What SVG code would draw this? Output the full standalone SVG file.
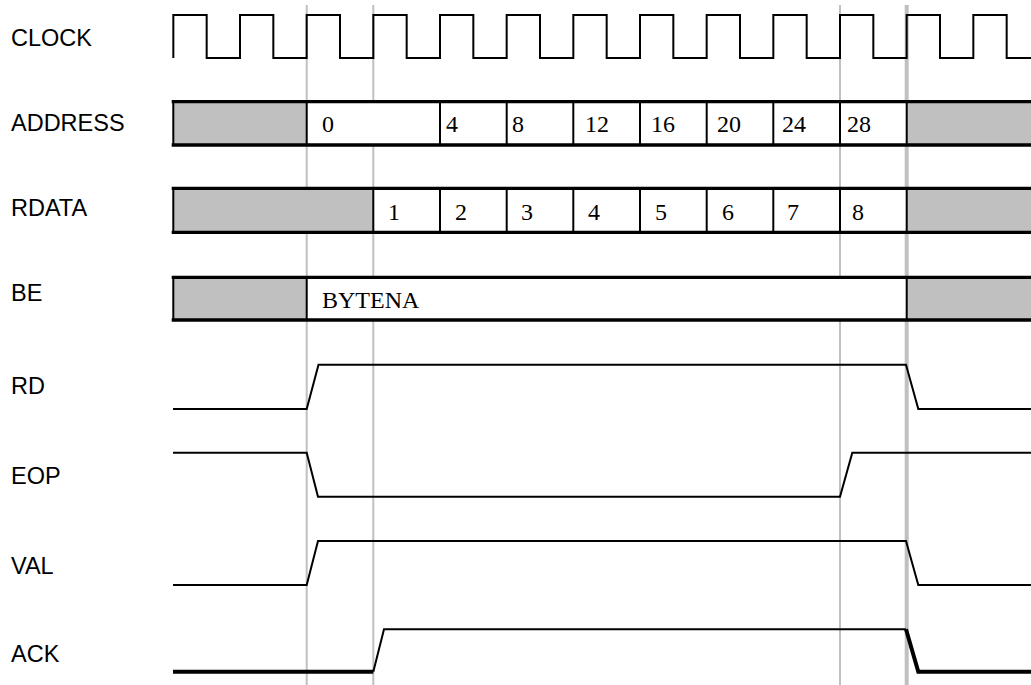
<svg xmlns="http://www.w3.org/2000/svg" width="1031" height="685" viewBox="0 0 1031 685">
<style>
.lbl{font-family:"Liberation Sans",Arial,sans-serif;font-size:23.5px;fill:#000}
.val{font-family:"Liberation Serif","Times New Roman",serif;font-size:24px;fill:#000}
.grid{stroke:#c0c0c0;stroke-width:2;fill:none}
.sig{stroke:#000;stroke-width:2;fill:none;stroke-linejoin:miter}
.thick{stroke:#000;stroke-width:4;fill:none}
.edge{stroke:#000;stroke-width:3.3;fill:none}
.div{stroke:#000;stroke-width:2;fill:none}
.x{fill:#c0c0c0}
.w{fill:#fff}
</style>
<rect width="1031" height="685" fill="#fff"/>
<g id="grid">
<line class="grid" x1="306.7" y1="5" x2="306.7" y2="685"/>
<line class="grid" x1="373.3" y1="5" x2="373.3" y2="685"/>
<line class="grid" x1="840" y1="5" x2="840" y2="685"/>
<line class="grid" x1="906.7" y1="5" x2="906.7" y2="685" style="stroke-width:4"/>
</g>
<g id="labels">
<text class="lbl" x="11" y="46">CLOCK</text>
<text class="lbl" x="11" y="131">ADDRESS</text>
<text class="lbl" x="11" y="216">RDATA</text>
<text class="lbl" x="11" y="301">BE</text>
<text class="lbl" x="11" y="394">RD</text>
<text class="lbl" x="11" y="484">EOP</text>
<text class="lbl" x="11" y="574">VAL</text>
<text class="lbl" x="11" y="662">ACK</text>
</g>
<g id="clock">
<path class="sig" d="M173.33,58 V15 H206.67 V58 H240 V15 H273.33 V58 H306.67 V15 H340 V58 H373.33 V15 H406.67 V58 H440 V15 H473.33 V58 H506.67 V15 H540 V58 H573.33 V15 H606.67 V58 H640 V15 H673.33 V58 H706.67 V15 H740 V58 H773.33 V15 H806.67 V58 H840 V15 H873.33 V58 H906.67 V15 H940 V58 H973.33 V15 H1006.67 V58 H1031"/>
</g>
<g id="address">
<rect class="w" x="173.3" y="101.7" width="857.7" height="43.3"/>
<rect class="x" x="173.3" y="101.7" width="133.4" height="43.3"/>
<rect class="x" x="906.7" y="101.7" width="124.3" height="43.3"/>
<line class="div" x1="173.3" y1="101.7" x2="173.3" y2="145"/>
<line class="div" x1="306.7" y1="101.7" x2="306.7" y2="145"/>
<line class="div" x1="440" y1="101.7" x2="440" y2="145"/>
<line class="div" x1="506.7" y1="101.7" x2="506.7" y2="145"/>
<line class="div" x1="573.3" y1="101.7" x2="573.3" y2="145"/>
<line class="div" x1="640" y1="101.7" x2="640" y2="145"/>
<line class="div" x1="706.7" y1="101.7" x2="706.7" y2="145"/>
<line class="div" x1="773.3" y1="101.7" x2="773.3" y2="145"/>
<line class="div" x1="840" y1="101.7" x2="840" y2="145"/>
<line class="div" x1="906.7" y1="101.7" x2="906.7" y2="145"/>
<line class="edge" x1="171.7" y1="101.7" x2="1031" y2="101.7"/>
<line class="edge" x1="171.7" y1="145" x2="1031" y2="145"/>
<text class="val" x="322" y="131.7">0</text>
<text class="val" x="446" y="131.7">4</text>
<text class="val" x="512" y="131.7">8</text>
<text class="val" x="585" y="131.7">12</text>
<text class="val" x="651" y="131.7">16</text>
<text class="val" x="717" y="131.7">20</text>
<text class="val" x="782" y="131.7">24</text>
<text class="val" x="847" y="131.7">28</text>
</g>
<g id="rdata">
<rect class="w" x="173.3" y="188.3" width="857.7" height="44"/>
<rect class="x" x="173.3" y="188.3" width="200" height="44"/>
<rect class="x" x="906.7" y="188.3" width="124.3" height="44"/>
<line class="div" x1="173.3" y1="188.3" x2="173.3" y2="232.3"/>
<line class="div" x1="373.3" y1="188.3" x2="373.3" y2="232.3"/>
<line class="div" x1="440" y1="188.3" x2="440" y2="232.3"/>
<line class="div" x1="506.7" y1="188.3" x2="506.7" y2="232.3"/>
<line class="div" x1="573.3" y1="188.3" x2="573.3" y2="232.3"/>
<line class="div" x1="640" y1="188.3" x2="640" y2="232.3"/>
<line class="div" x1="706.7" y1="188.3" x2="706.7" y2="232.3"/>
<line class="div" x1="773.3" y1="188.3" x2="773.3" y2="232.3"/>
<line class="div" x1="840" y1="188.3" x2="840" y2="232.3"/>
<line class="div" x1="906.7" y1="188.3" x2="906.7" y2="232.3"/>
<line class="edge" x1="171.7" y1="188.3" x2="1031" y2="188.3"/>
<line class="edge" x1="171.7" y1="232.3" x2="1031" y2="232.3"/>
<text class="val" x="394" y="220" text-anchor="middle">1</text>
<text class="val" x="461" y="220" text-anchor="middle">2</text>
<text class="val" x="527" y="220" text-anchor="middle">3</text>
<text class="val" x="594" y="220" text-anchor="middle">4</text>
<text class="val" x="661" y="220" text-anchor="middle">5</text>
<text class="val" x="728" y="220" text-anchor="middle">6</text>
<text class="val" x="793" y="220" text-anchor="middle">7</text>
<text class="val" x="858" y="220" text-anchor="middle">8</text>
</g>
<g id="be">
<rect class="w" x="173.3" y="277.3" width="857.7" height="42.7"/>
<rect class="x" x="173.3" y="277.3" width="133.4" height="42.7"/>
<rect class="x" x="906.7" y="277.3" width="124.3" height="42.7"/>
<line class="div" x1="173.3" y1="277.3" x2="173.3" y2="320"/>
<line class="div" x1="306.7" y1="277.3" x2="306.7" y2="320"/>
<line class="div" x1="906.7" y1="277.3" x2="906.7" y2="320"/>
<line class="edge" x1="171.7" y1="277.3" x2="1031" y2="277.3"/>
<line class="edge" x1="171.7" y1="320" x2="1031" y2="320"/>
<text class="val" x="322" y="308.3">BYTENA</text>
</g>
<g id="rd">
<path class="sig" d="M173,409 H306.7 L318.5,364.7 H906 L918.3,409 H1031"/>
</g>
<g id="eop">
<path class="sig" d="M173,452.7 H306.7 L318,496.7 H840 L852.3,452.7 H1031"/>
</g>
<g id="val">
<path class="sig" d="M173,585 H306.7 L318,541 H906 L918.3,585 H1031"/>
</g>
<g id="ack">
<path class="thick" d="M173,671.7 H373.3"/>
<path class="sig" d="M373.3,671.7 L384,629.3 H906"/>
<path class="thick" d="M906,629.3 L918.3,671.7 H1031"/>
</g>
</svg>
